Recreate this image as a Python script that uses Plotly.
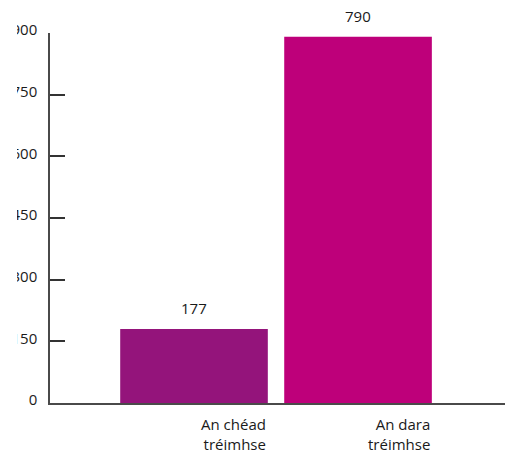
import plotly.graph_objects as go

categories = ["An chéad<br>tréimhse", "An dara<br>tréimhse"]
bar_heights = [180, 891]          # heights as read against the y axis
value_labels = ["177", "790"]     # printed value labels
bar_colors = ["#94147B", "#BE007A"]
tick_values = [0, 150, 300, 450, 600, 750, 900]
tick_labels = ["0", "150", "300", "450", "600", "750", "900"]

FONT = "Open Sans"
FS = 15
W, H = 505, 454
ML, MR, MT, MB = 50, 0, 33, 51

fig = go.Figure()
fig.add_trace(go.Bar(
    x=[0, 1], y=bar_heights, width=0.9,
    marker=dict(color=bar_colors, line=dict(width=0)),
    hoverinfo="skip",
))

annotations = []
for i, (h, lab) in enumerate(zip(bar_heights, value_labels)):
    annotations.append(dict(
        x=i, y=h, xref="x", yref="y", text=lab, showarrow=False,
        yanchor="bottom", yshift=9,
        font=dict(family=FONT, size=FS, color="#1a1a1a"),
    ))
for i, cat in enumerate(categories):
    annotations.append(dict(
        x=i, y=0, xref="x", yref="paper", text=cat, showarrow=False,
        xanchor="right", yanchor="top", xshift=74, yshift=-9,
        align="right",
        font=dict(family=FONT, size=FS, color="#1a1a1a"),
    ))

plot_w = W - ML - MR
fig.update_layout(
    width=W, height=H,
    margin=dict(l=ML, r=MR, t=MT, b=MB, pad=0),
    paper_bgcolor="white", plot_bgcolor="white",
    showlegend=False,
    font=dict(family=FONT, size=FS, color="#1a1a1a"),
    xaxis=dict(
        range=[-0.878, 1.896], showticklabels=False, ticks="",
        showgrid=False, zeroline=False,
        showline=True, linecolor="#4a4a4a", linewidth=2,
        fixedrange=True,
    ),
    yaxis=dict(
        range=[0, 900], tickvals=tick_values, ticktext=tick_labels,
        ticks="inside", ticklen=15, tickwidth=1.5, tickcolor="#333333",
        ticklabelstandoff=8, ticklabelshift=-3,
        showgrid=False, zeroline=False,
        showline=True, linecolor="#4a4a4a", linewidth=1.5,
        tickfont=dict(family=FONT, size=FS, color="#1a1a1a"),
        fixedrange=True,
    ),
    annotations=annotations,
    shapes=[dict(
        type="rect", xref="paper", yref="paper", layer="above",
        x0=-ML / plot_w, x1=(17 - ML) / plot_w, y0=-0.2, y1=1.2,
        fillcolor="white", line=dict(width=0),
    )],
)

fig.write_html("out.html")
